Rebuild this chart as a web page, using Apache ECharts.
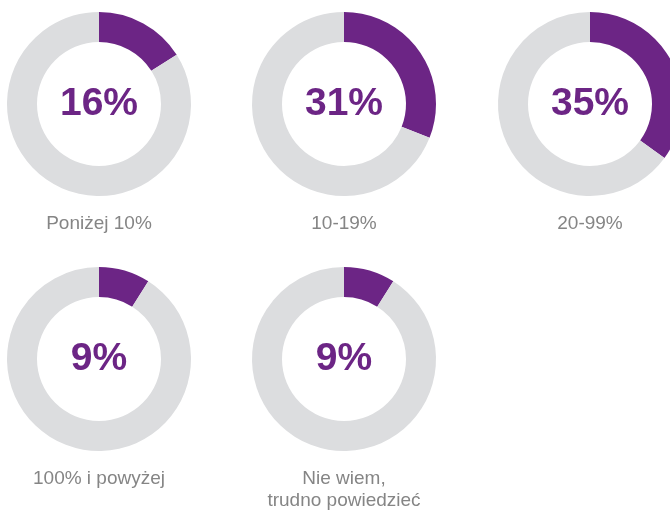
<!DOCTYPE html>
<html>
<head>
<meta charset="utf-8">
<script src="https://cdn.jsdelivr.net/npm/echarts@6/dist/echarts.min.js"></script>
<style>
  html, body { margin: 0; padding: 0; background: #ffffff; }
  #chart { width: 670px; height: 512px; }
</style>
</head>
<body>
<div id="chart"></div>
<script>
// Share of answers per range
const categories = ['Poniżej 10%', '10-19%', '20-99%', '100% i powyżej', 'Nie wiem,\ntrudno powiedzieć'];
const shares = [16, 31, 35, 9, 9];

// Layout of the small multiples (pixels)
const centers = [[99, 104], [344, 104], [590, 104], [99, 359], [344, 359]];
const ringRadius = [62, 92];
const purple = '#6c2585';
const grey = '#dcdddf';
const labelGrey = '#858585';

const chart = echarts.init(document.getElementById('chart'), null, { renderer: 'canvas' });

const series = shares.map((v, i) => ({
  type: 'pie',
  center: centers[i],
  radius: ringRadius,
  startAngle: 90,
  clockwise: true,
  silent: true,
  animation: false,
  avoidLabelOverlap: false,
  labelLine: { show: false },
  emphasis: { disabled: true },
  data: [
    {
      value: v,
      name: categories[i],
      itemStyle: { color: purple },
      label: {
        show: true,
        position: 'center',
        formatter: '{c}%',
        color: purple,
        fontFamily: 'Liberation Sans, Arial, sans-serif',
        fontWeight: 'bold',
        fontSize: 39,
        padding: [5, 0, 0, 0]
      }
    },
    {
      value: 100 - v,
      name: 'rest',
      itemStyle: { color: grey },
      label: { show: false }
    }
  ]
}));

const captions = categories.map((c, i) => ({
  type: 'text',
  x: centers[i][0],
  y: centers[i][1] + 109,
  silent: true,
  style: {
    text: c,
    fill: labelGrey,
    font: '19px "Liberation Sans", Arial, sans-serif',
    textAlign: 'center',
    textVerticalAlign: 'top',
    lineHeight: 22
  }
}));

chart.setOption({
  backgroundColor: '#ffffff',
  animation: false,
  series: series,
  graphic: captions
});
</script>
</body>
</html>
